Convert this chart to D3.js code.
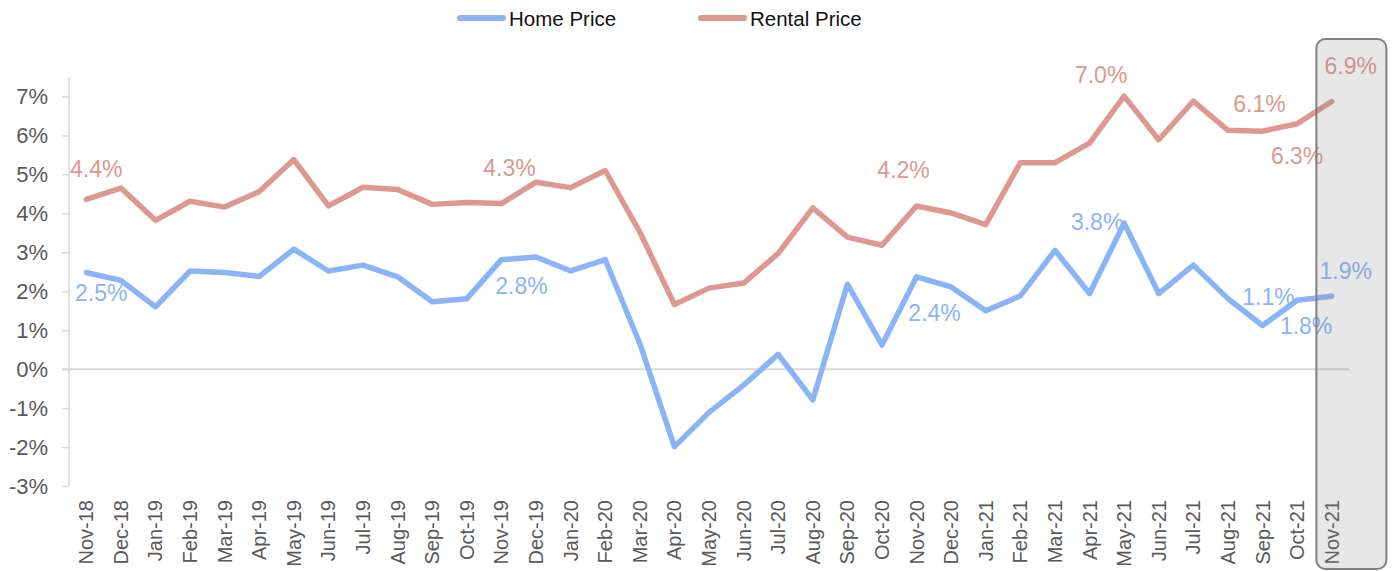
<!DOCTYPE html>
<html>
<head>
<meta charset="utf-8">
<script src="https://cdn.jsdelivr.net/npm/d3@7/dist/d3.min.js"></script>
<style>
  html, body { margin: 0; padding: 0; background: #fff; }
  svg { display: block; font-family: "Liberation Sans", Arial, sans-serif; }
</style>
</head>
<body>
<svg id="chart" width="1395" height="571"></svg>
<script>
const months = ["Nov-18","Dec-18","Jan-19","Feb-19","Mar-19","Apr-19","May-19","Jun-19","Jul-19","Aug-19","Sep-19","Oct-19",
  "Nov-19","Dec-19","Jan-20","Feb-20","Mar-20","Apr-20","May-20","Jun-20","Jul-20","Aug-20","Sep-20","Oct-20",
  "Nov-20","Dec-20","Jan-21","Feb-21","Mar-21","Apr-21","May-21","Jun-21","Jul-21","Aug-21","Sep-21","Oct-21","Nov-21"];

const homePrice = [2.48,2.28,1.60,2.52,2.48,2.38,3.08,2.52,2.67,2.37,1.73,1.81,
  2.81,2.88,2.52,2.81,0.66,-1.99,-1.11,-0.41,0.38,-0.79,2.18,0.62,
  2.37,2.11,1.50,1.88,3.05,1.94,3.75,1.94,2.67,1.81,1.12,1.77,1.87];

const rentalPrice = [4.36,4.65,3.82,4.31,4.16,4.56,5.38,4.19,4.67,4.61,4.23,4.28,
  4.25,4.80,4.66,5.10,3.52,1.66,2.08,2.21,2.97,4.14,3.39,3.18,
  4.19,4.01,3.71,5.30,5.30,5.80,7.01,5.89,6.88,6.13,6.11,6.30,6.87];

const yTicks = [-3,-2,-1,0,1,2,3,4,5,6,7];
const seriesNames = ["Home Price", "Rental Price"];
const labelIndexHome = [0, 12, 24, 30, 34, 35, 36];
const labelIndexRental = [0, 12, 24, 30, 34, 35, 36];

// ---- layout ----
const colors = { "Home Price": "#8ab4f8", "Rental Price": "#dd9890" };
const svg = d3.select("#chart");

const x = d3.scaleBand().domain(months).range([69, 1349]);
const xc = d => x(d) + x.bandwidth() / 2;
const y = d3.scaleLinear().domain([-3, 7.5]).range([486, 77]);

// zero line
svg.append("line")
  .attr("x1", 62).attr("x2", 1349)
  .attr("y1", y(0)).attr("y2", y(0))
  .attr("stroke", "#d9d9d9").attr("stroke-width", 2);

// y axis
const yAxis = d3.axisLeft(y).tickValues(yTicks).tickSize(7).tickPadding(14)
  .tickFormat(d => d + "%");
const gy = svg.append("g").attr("transform", "translate(69,0)").call(yAxis);
gy.select(".domain").attr("stroke", "#d9d9d9").attr("stroke-width", 1.5)
  .attr("d", `M0,${y(7.5)}V${y(-3)}`);
gy.selectAll(".tick line").attr("stroke", "#d9d9d9").attr("stroke-width", 1.5);
gy.selectAll(".tick text").attr("fill", "#595959").style("font-size", "22px")
  .style("font-family", "'Liberation Sans', Arial, sans-serif");

// x axis labels
const xAxis = d3.axisBottom(x).tickSize(0).tickPadding(0);
const gx = svg.append("g").attr("transform", `translate(0,${y(-3)})`).call(xAxis);
gx.select(".domain").remove();
gx.selectAll(".tick text")
  .attr("transform", "rotate(-90)")
  .attr("x", -14).attr("y", 0).attr("dy", "0.35em")
  .attr("text-anchor", "end")
  .attr("fill", "#595959").style("font-size", "20px")
  .style("font-family", "'Liberation Sans', Arial, sans-serif");

// lines
const line = d3.line().x((d, i) => xc(months[i])).y(d => y(d)).curve(d3.curveLinear);
[["Rental Price", rentalPrice], ["Home Price", homePrice]].forEach(([name, vals]) => {
  svg.append("path").datum(vals).attr("d", line)
    .attr("fill", "none").attr("stroke", colors[name])
    .attr("stroke-width", 5.5).attr("stroke-linejoin", "round").attr("stroke-linecap", "round");
});

// data labels (offsets relative to point: dx to label center, dy to baseline)
const rentalOffsets = { 0: [10, -22], 12: [8, -28], 24: [-13, -28], 30: [-23, -13], 34: [-3, -19], 35: [0, 40], 36: [19, -28] };
const homeOffsets = { 0: [15, 28], 12: [20, 34], 24: [18, 44], 30: [-27, 7], 34: [6, -21], 35: [9, 34], 36: [14, -17] };
function drawLabels(vals, idxs, offs, color) {
  svg.append("g").selectAll("text").data(idxs).join("text")
    .attr("x", i => xc(months[i]) + offs[i][0])
    .attr("y", i => y(vals[i]) + offs[i][1])
    .attr("text-anchor", "middle")
    .attr("fill", color).style("font-size", "23px")
    .text(i => d3.format(".1f")(vals[i]) + "%");
}
drawLabels(rentalPrice, labelIndexRental, rentalOffsets, colors["Rental Price"]);
drawLabels(homePrice, labelIndexHome, homeOffsets, colors["Home Price"]);

// highlight box for last month
const last = months[months.length - 1];
svg.append("rect")
  .attr("x", x(last) + 2).attr("width", 70)
  .attr("y", 39).attr("height", 530)
  .attr("rx", 9).attr("ry", 9)
  .attr("fill", "#808080").attr("fill-opacity", 0.19)
  .attr("stroke", "#7f7f7f").attr("stroke-width", 2);

// legend
const legend = svg.append("g");
const legendItems = [
  { name: seriesNames[0], x1: 460, x2: 503, tx: 509 },
  { name: seriesNames[1], x1: 701, x2: 744, tx: 750 }
];
legendItems.forEach(it => {
  legend.append("line").attr("x1", it.x1).attr("x2", it.x2).attr("y1", 18).attr("y2", 18)
    .attr("stroke", colors[it.name]).attr("stroke-width", 6).attr("stroke-linecap", "round");
  legend.append("text").attr("x", it.tx).attr("y", 25.5).attr("fill", "#111")
    .style("font-size", "20.5px").text(it.name);
});
</script>
</body>
</html>
